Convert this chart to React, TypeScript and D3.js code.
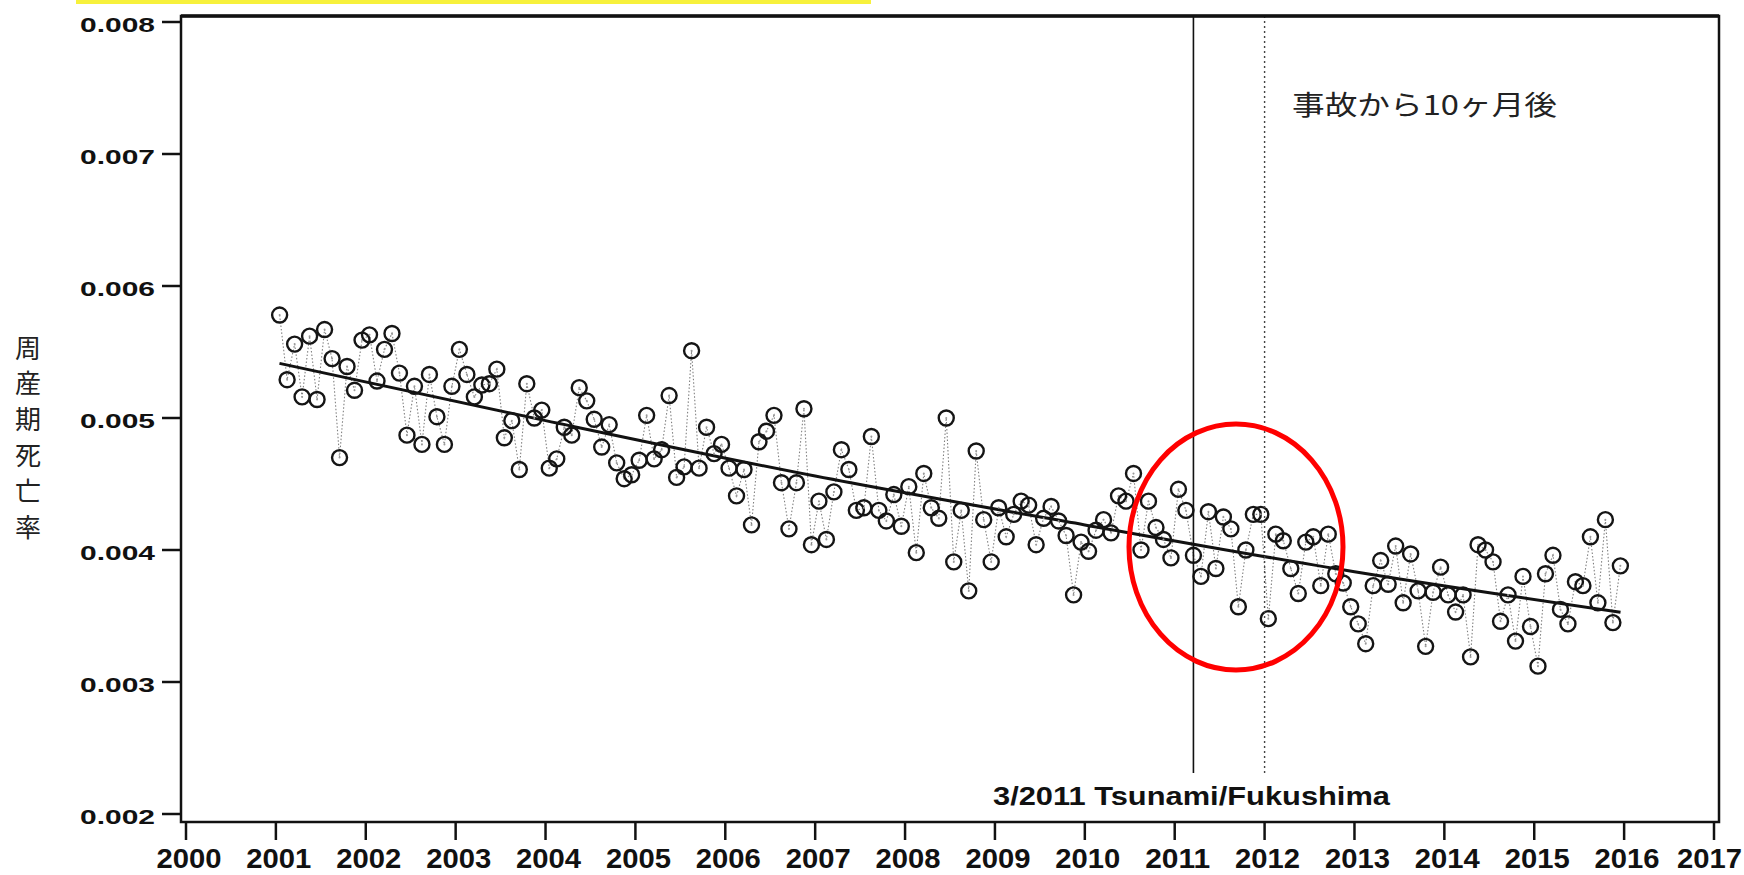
import React from "react";
import * as d3 from "d3";

// ---- data (monthly perinatal mortality rate) ----
const rates2001 = [0.00578, 0.00529, 0.00556, 0.00516, 0.00562, 0.00514, 0.00567, 0.00545, 0.0047, 0.00539, 0.00521, 0.00559];
const rates2002 = [0.00563, 0.00528, 0.00552, 0.00564, 0.00534, 0.00487, 0.00524, 0.0048, 0.00533, 0.00501, 0.0048, 0.00524];
const rates2003 = [0.00552, 0.00533, 0.00516, 0.00525, 0.00526, 0.00537, 0.00485, 0.00498, 0.00461, 0.00526, 0.005, 0.00506];
const rates2004 = [0.00462, 0.00469, 0.00493, 0.00487, 0.00523, 0.00513, 0.00499, 0.00478, 0.00495, 0.00466, 0.00454, 0.00457];
const rates2005 = [0.00468, 0.00502, 0.00469, 0.00476, 0.00517, 0.00455, 0.00463, 0.00551, 0.00462, 0.00493, 0.00473, 0.0048];
const rates2006 = [0.00462, 0.00441, 0.00461, 0.00419, 0.00482, 0.0049, 0.00502, 0.00451, 0.00416, 0.00451, 0.00507, 0.00404];
const rates2007 = [0.00437, 0.00408, 0.00444, 0.00476, 0.00461, 0.0043, 0.00432, 0.00486, 0.0043, 0.00422, 0.00442, 0.00418];
const rates2008 = [0.00448, 0.00398, 0.00458, 0.00432, 0.00424, 0.005, 0.00391, 0.0043, 0.00369, 0.00475, 0.00423, 0.00391];
const rates2009 = [0.00432, 0.0041, 0.00427, 0.00437, 0.00434, 0.00404, 0.00424, 0.00433, 0.00422, 0.00411, 0.00366, 0.00406];
const rates2010 = [0.00399, 0.00415, 0.00423, 0.00413, 0.00441, 0.00437, 0.00458, 0.004, 0.00437, 0.00417, 0.00408, 0.00394];
const rates2011 = [0.00446, 0.0043, 0.00396, 0.0038, 0.00429, 0.00386, 0.00425, 0.00416, 0.00357, 0.004, 0.00427, 0.00427];
const rates2012 = [0.00348, 0.00412, 0.00407, 0.00386, 0.00367, 0.00406, 0.0041, 0.00373, 0.00412, 0.00382, 0.00375, 0.00357];
const rates2013 = [0.00344, 0.00329, 0.00373, 0.00392, 0.00374, 0.00403, 0.0036, 0.00397, 0.00369, 0.00327, 0.00368, 0.00387];
const rates2014 = [0.00366, 0.00353, 0.00366, 0.00319, 0.00404, 0.004, 0.00391, 0.00346, 0.00366, 0.00331, 0.0038, 0.00342];
const rates2015 = [0.00312, 0.00382, 0.00396, 0.00355, 0.00344, 0.00376, 0.00373, 0.0041, 0.0036, 0.00423, 0.00345, 0.00388];

const dataYears = [2001, 2002, 2003, 2004, 2005, 2006, 2007, 2008, 2009, 2010, 2011, 2012, 2013, 2014, 2015];
const yearlyRates = [rates2001, rates2002, rates2003, rates2004, rates2005, rates2006, rates2007, rates2008, rates2009, rates2010, rates2011, rates2012, rates2013, rates2014, rates2015];

// fitted trend line (read at a few times from the picture)
const trendTimes = [2001.04, 2004.0, 2007.0, 2010.0, 2013.0, 2015.96];
const trendValues = [0.005414, 0.00498, 0.00456, 0.00419, 0.003835, 0.003528];

const xTicks = [2000, 2001, 2002, 2003, 2004, 2005, 2006, 2007, 2008, 2009, 2010, 2011, 2012, 2013, 2014, 2015, 2016, 2017];
const yTicks = [0.002, 0.003, 0.004, 0.005, 0.006, 0.007, 0.008];
const yTickLabels = ["0.002", "0.003", "0.004", "0.005", "0.006", "0.007", "0.008"];

const tsunamiTime = 2011 + 2.5 / 12;
const tenMonthsLaterTime = 2012.0;
const yTitle = "周産期死亡率";
const annotationText = "事故から10ヶ月後";
const eventLabel = "3/2011 Tsunami/Fukushima";

export default function App() {
  const W = 1744;
  const H = 875;
  const frame = { left: 181, right: 1719, top: 16, bottom: 822 };

  const x = d3.scaleLinear().domain([2000, 2017]).range([186, 1714]);
  const y = d3.scaleLinear().domain([0.002, 0.008]).range([814, 22]);

  const points: { t: number; v: number }[] = [];
  dataYears.forEach((yr, i) => {
    yearlyRates[i].forEach((v, m) => {
      points.push({ t: yr + (m + 0.5) / 12, v });
    });
  });

  const connector = d3
    .line<{ t: number; v: number }>()
    .x((d) => x(d.t))
    .y((d) => y(d.v))(points) as string;

  const trend = d3
    .line<number>()
    .x((_, i) => x(trendTimes[i]))
    .y((d) => y(d))
    .curve(d3.curveMonotoneX)(trendValues) as string;

  const tickFont = "'Liberation Sans', Arial, sans-serif";
  const cjkFont = "'Noto Sans CJK JP', 'Noto Sans CJK SC', sans-serif";
  const xLabelW = 65;

  return (
    <svg
      width={W}
      height={H}
      viewBox={`0 0 ${W} ${H}`}
      style={{ position: "absolute", left: 0, top: 0, background: "#fff" }}
    >
      <rect x={0} y={0} width={W} height={H} fill="#fff" />
      {/* yellow highlight strip at the top */}
      <rect x={76} y={0} width={795} height={4} fill="#f7f13c" />

      {/* dotted connecting line */}
      <path d={connector} fill="none" stroke="#808080" strokeWidth={1.1} strokeDasharray="1.5 2" />

      {/* trend line */}
      <path d={trend} fill="none" stroke="#111" strokeWidth={3} />

      {/* points */}
      {points.map((p, i) => (
        <g key={i}>
          <circle cx={x(p.t)} cy={y(p.v)} r={7.5} fill="none" stroke="#151515" strokeWidth={2.4} />
          <circle cx={x(p.t)} cy={y(p.v)} r={1} fill="#9a9a9a" />
        </g>
      ))}

      {/* event lines */}
      <line x1={x(tsunamiTime)} x2={x(tsunamiTime)} y1={frame.top} y2={773} stroke="#111" strokeWidth={1.6} />
      <line
        x1={x(tenMonthsLaterTime)}
        x2={x(tenMonthsLaterTime)}
        y1={frame.top}
        y2={773}
        stroke="#444"
        strokeWidth={1.4}
        strokeDasharray="2 3"
      />

      {/* frame */}
      <rect
        x={frame.left}
        y={frame.top}
        width={frame.right - frame.left}
        height={frame.bottom - frame.top}
        fill="none"
        stroke="#111"
        strokeWidth={2.5}
      />
      <line x1={frame.left} x2={frame.right} y1={frame.top} y2={frame.top} stroke="#111" strokeWidth={3.5} />

      {/* y axis */}
      {yTicks.map((t, i) => (
        <g key={t}>
          <line x1={162} x2={frame.left} y1={y(t)} y2={y(t)} stroke="#111" strokeWidth={2.5} />
          <text
            x={155}
            y={y(t) + 10}
            textAnchor="end"
            fontFamily={tickFont}
            fontWeight="bold"
            fontSize={21}
            textLength={75}
            lengthAdjust="spacingAndGlyphs"
            fill="#111"
          >
            {yTickLabels[i]}
          </text>
        </g>
      ))}

      {/* x axis */}
      {xTicks.map((t) => {
        const cx = Math.min(x(t) + 3, W - 2 - xLabelW / 2);
        return (
          <g key={t}>
            <line x1={x(t)} x2={x(t)} y1={frame.bottom} y2={840} stroke="#111" strokeWidth={2.5} />
            <text
              x={cx}
              y={868}
              textAnchor="middle"
              fontFamily={tickFont}
              fontWeight="bold"
              fontSize={27}
              textLength={xLabelW}
              lengthAdjust="spacingAndGlyphs"
              fill="#111"
            >
              {String(t)}
            </text>
          </g>
        );
      })}

      {/* y title, vertical */}
      {Array.from(yTitle).map((ch, i) => (
        <text
          key={i}
          x={28}
          y={346 + i * 35.8}
          textAnchor="middle"
          dominantBaseline="central"
          fontFamily={cjkFont}
          fontSize={26}
          fill="#222"
        >
          {ch}
        </text>
      ))}

      {/* annotation */}
      <text
        x={1292}
        y={103}
        dominantBaseline="central"
        fontFamily={cjkFont}
        fontSize={27}
        textLength={265}
        lengthAdjust="spacingAndGlyphs"
        fill="#222"
      >
        {annotationText}
      </text>

      <text
        x={993}
        y={805}
        fontFamily={tickFont}
        fontWeight="bold"
        fontSize={26}
        textLength={397}
        lengthAdjust="spacingAndGlyphs"
        fill="#111"
      >
        {eventLabel}
      </text>

      {/* red ellipse */}
      <ellipse cx={1236} cy={547} rx={107} ry={123} fill="none" stroke="#f00" strokeWidth={5} />
    </svg>
  );
}
